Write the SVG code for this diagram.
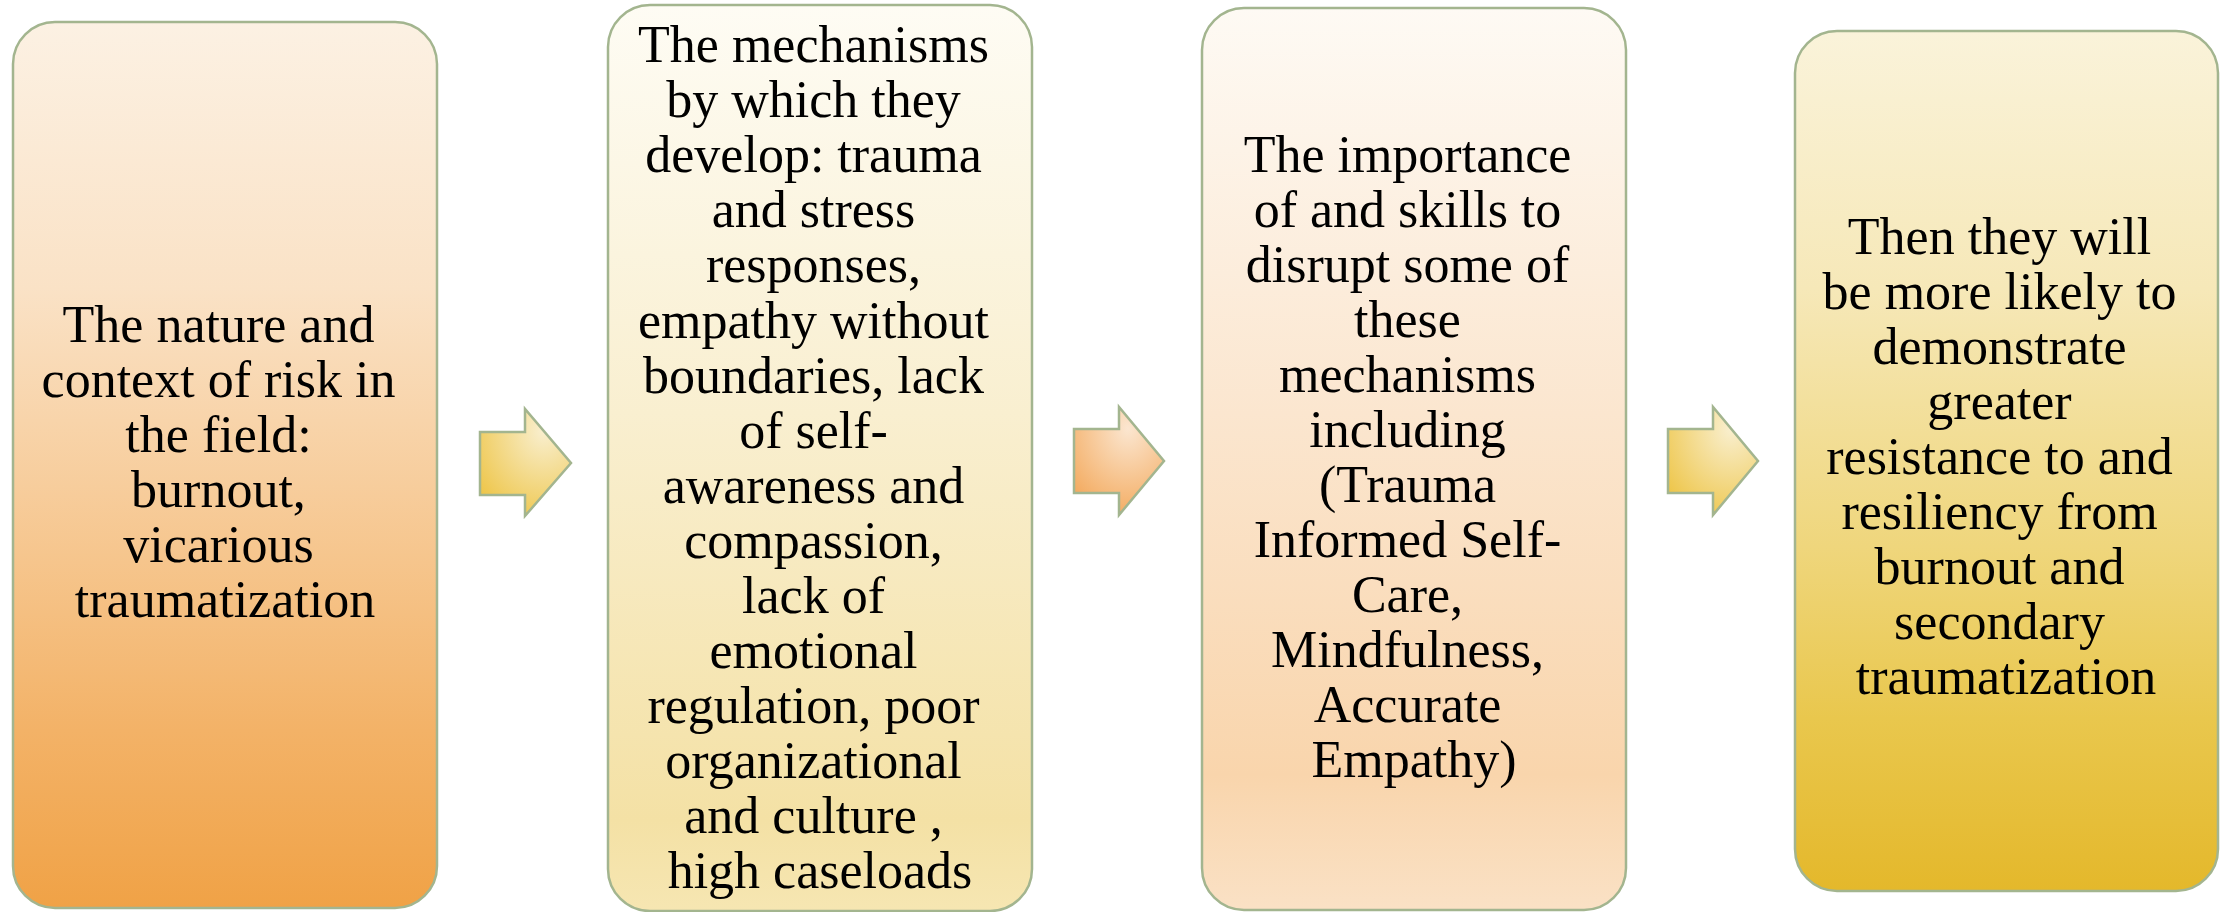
<svg xmlns="http://www.w3.org/2000/svg" width="2226" height="912" viewBox="0 0 2226 912">
  <defs>
    <style>
      .box { stroke: #a3b58f; stroke-width: 2.5; }
      .arrow { stroke: #a3b58f; stroke-width: 2.5; stroke-linejoin: miter; }
      .label { font-family: "Liberation Serif", "Times New Roman", serif; font-size: 52px; fill: #000; text-anchor: middle; }
    </style>
    <linearGradient id="gOrange" x1="0" y1="0" x2="0" y2="1">
      <stop offset="0" stop-color="#fcf1e3"/>
      <stop offset="0.3" stop-color="#fae2c6"/>
      <stop offset="0.6" stop-color="#f6c68e"/>
      <stop offset="0.8" stop-color="#f3b267"/>
      <stop offset="1" stop-color="#f0a246"/>
    </linearGradient>
    <linearGradient id="gCream" x1="0" y1="0" x2="0" y2="1">
      <stop offset="0" stop-color="#fefcf4"/>
      <stop offset="0.45" stop-color="#f9efd0"/>
      <stop offset="0.9" stop-color="#f4e1a5"/>
      <stop offset="1" stop-color="#f6e6b2"/>
    </linearGradient>
    <linearGradient id="gPeach" x1="0" y1="0" x2="0" y2="1">
      <stop offset="0" stop-color="#fefaf4"/>
      <stop offset="0.45" stop-color="#fbe6cf"/>
      <stop offset="0.85" stop-color="#f9d5ac"/>
      <stop offset="1" stop-color="#fae1c5"/>
    </linearGradient>
    <linearGradient id="gGold" x1="0" y1="0" x2="0" y2="1">
      <stop offset="0" stop-color="#faf3da"/>
      <stop offset="0.3" stop-color="#f6e8b8"/>
      <stop offset="0.6" stop-color="#efd67c"/>
      <stop offset="0.8" stop-color="#e9c74d"/>
      <stop offset="1" stop-color="#e4b82b"/>
    </linearGradient>
    <radialGradient id="gArrowYellow" cx="0.7" cy="0.2" r="0.9" fx="0.7" fy="0.2">
      <stop offset="0" stop-color="#f9efcf"/>
      <stop offset="1" stop-color="#eec64a"/>
    </radialGradient>
    <radialGradient id="gArrowOrange" cx="0.6" cy="0.2" r="0.9" fx="0.6" fy="0.2">
      <stop offset="0" stop-color="#fbe6d0"/>
      <stop offset="1" stop-color="#f3a656"/>
    </radialGradient>
  </defs>

  <!-- step 1 -->
  <g id="node1">
    <rect class="box" x="13" y="22" width="424" height="886" rx="42" ry="42" fill="url(#gOrange)"/>
    <text class="label">
      <tspan x="225" y="342">The nature and</tspan>
      <tspan x="225" y="397">context of risk in</tspan>
      <tspan x="225" y="452">the field:</tspan>
      <tspan x="225" y="507">burnout,</tspan>
      <tspan x="225" y="562">vicarious</tspan>
      <tspan x="225" y="617">traumatization</tspan>
    </text>
  </g>

  <!-- step 2 -->
  <g id="node2">
    <rect class="box" x="608" y="5" width="424" height="906" rx="42" ry="42" fill="url(#gCream)"/>
    <text class="label">
      <tspan x="820" y="62">The mechanisms</tspan>
      <tspan x="820" y="117">by which they</tspan>
      <tspan x="820" y="172">develop: trauma</tspan>
      <tspan x="820" y="227">and stress</tspan>
      <tspan x="820" y="282">responses,</tspan>
      <tspan x="820" y="338">empathy without</tspan>
      <tspan x="820" y="393">boundaries, lack</tspan>
      <tspan x="820" y="448">of self-</tspan>
      <tspan x="820" y="503">awareness and</tspan>
      <tspan x="820" y="558">compassion,</tspan>
      <tspan x="820" y="613">lack of</tspan>
      <tspan x="820" y="668">emotional</tspan>
      <tspan x="820" y="723">regulation, poor</tspan>
      <tspan x="820" y="778">organizational</tspan>
      <tspan x="820" y="833">and culture ,</tspan>
      <tspan x="820" y="888">high caseloads</tspan>
    </text>
  </g>

  <!-- step 3 -->
  <g id="node3">
    <rect class="box" x="1202" y="8" width="424" height="902" rx="42" ry="42" fill="url(#gPeach)"/>
    <text class="label">
      <tspan x="1414" y="172">The importance</tspan>
      <tspan x="1414" y="227">of and skills to</tspan>
      <tspan x="1414" y="282">disrupt some of</tspan>
      <tspan x="1414" y="337">these</tspan>
      <tspan x="1414" y="392">mechanisms</tspan>
      <tspan x="1414" y="447">including</tspan>
      <tspan x="1414" y="502">(Trauma</tspan>
      <tspan x="1414" y="557">Informed Self-</tspan>
      <tspan x="1414" y="612">Care,</tspan>
      <tspan x="1414" y="667">Mindfulness,</tspan>
      <tspan x="1414" y="722">Accurate</tspan>
      <tspan x="1414" y="777">Empathy)</tspan>
    </text>
  </g>

  <!-- step 4 -->
  <g id="node4">
    <rect class="box" x="1795" y="31" width="423" height="860" rx="42" ry="42" fill="url(#gGold)"/>
    <text class="label">
      <tspan x="2006" y="254">Then they will</tspan>
      <tspan x="2006" y="309">be more likely to</tspan>
      <tspan x="2006" y="364">demonstrate</tspan>
      <tspan x="2006" y="419">greater</tspan>
      <tspan x="2006" y="474">resistance to and</tspan>
      <tspan x="2006" y="529">resiliency from</tspan>
      <tspan x="2006" y="584">burnout and</tspan>
      <tspan x="2006" y="639">secondary</tspan>
      <tspan x="2006" y="694">traumatization</tspan>
    </text>
  </g>

  <!-- block arrows between steps -->
  <g id="connectors">
    <polygon class="arrow" fill="url(#gArrowYellow)" points="480,432 525,432 525,409 571,463 525,516 525,495 480,495"/>
    <polygon class="arrow" fill="url(#gArrowOrange)" points="1074,429 1119,429 1119,407 1164,461 1119,515 1119,493 1074,493"/>
    <polygon class="arrow" fill="url(#gArrowYellow)" points="1668,429 1713,429 1713,407 1758,461 1713,515 1713,493 1668,493"/>
  </g>
</svg>
